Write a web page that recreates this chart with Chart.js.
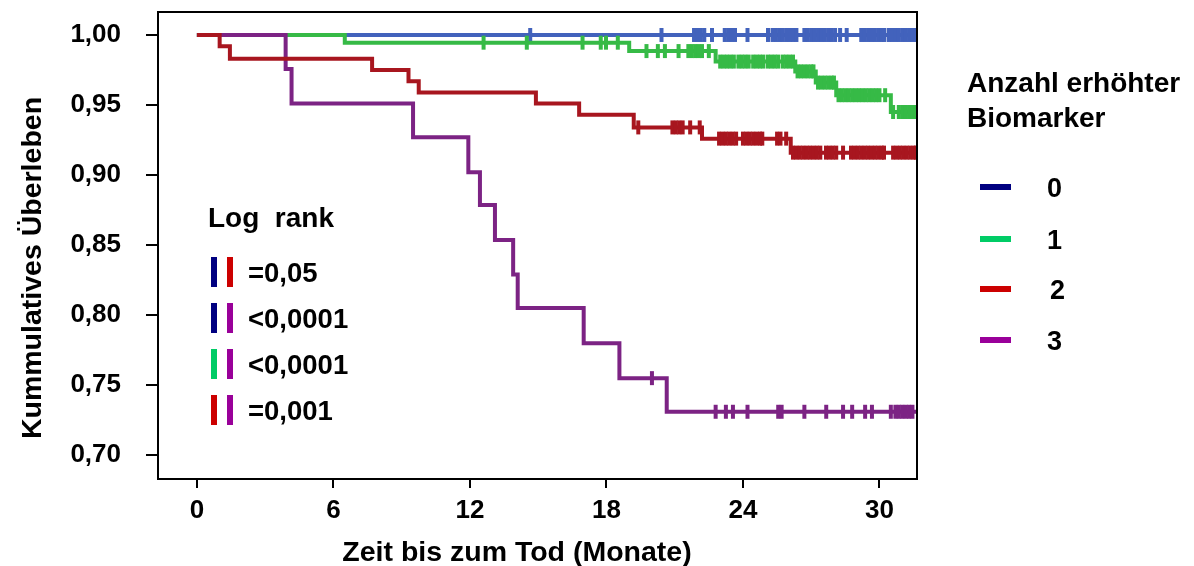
<!DOCTYPE html>
<html><head><meta charset="utf-8">
<script src="https://cdn.jsdelivr.net/npm/chart.js@4.4.0/dist/chart.umd.min.js"></script>
<style>html,body{margin:0;padding:0;background:#fff;}#wrap{width:1194px;height:566px;}</style>
</head><body><div id="wrap"><canvas id="c" width="1194" height="566"></canvas></div>
<script>
// ---- data ----
const groupLabels = ['0', '1', '2', '3'];
const xTicks = [0, 6, 12, 18, 24, 30];
const yTicks = [0.70, 0.75, 0.80, 0.85, 0.90, 0.95, 1.00];

// step curves (time in months, survival after the step)
const t0 = [0, 31.65];
const s0 = [1.0, 1.0];
const t1 = [0, 6.5, 19.0, 22.8, 26.3, 27.2, 28.1, 30.5, 31.65];
const s1 = [1.0, 0.9945, 0.9885, 0.981, 0.974, 0.966, 0.957, 0.945, 0.945];
const t2 = [0, 1.0, 1.45, 7.7, 9.3, 9.75, 14.9, 16.8, 19.2, 22.2, 26.1, 31.65];
const s2 = [1.0, 0.992, 0.983, 0.975, 0.967, 0.959, 0.951, 0.943, 0.934, 0.926, 0.916, 0.916];
const t3 = [0, 3.9, 4.16, 9.5, 11.93, 12.44, 13.1, 13.9, 14.1, 17.0, 18.57, 20.65, 31.65];
const s3 = [1.0, 0.9757, 0.951, 0.927, 0.902, 0.8786, 0.8536, 0.829, 0.805, 0.78, 0.755, 0.731, 0.731];

// censoring times
const c0 = [14.65, 20.42, 21.85, 22.0, 22.15, 22.3, 22.64, 23.2, 23.35, 23.5, 23.65, 24.2, 25.1, 25.3, 25.45, 25.6, 25.75, 25.9, 26.05, 26.2, 26.35, 26.7, 26.85, 27.0, 27.15, 27.3, 27.45, 27.6, 27.75, 27.9, 28.05, 28.27, 28.56, 29.2, 29.35, 29.5, 29.65, 29.8, 29.95, 30.1, 30.2, 30.4, 30.55, 30.7, 30.85, 31.0, 31.15, 31.3, 31.45, 31.6];
const c1 = [12.6, 14.5, 16.95, 17.75, 17.98, 18.5, 19.76, 20.26, 20.57, 21.17, 21.6, 21.75, 21.9, 22.05, 22.2, 22.5, 23.0, 23.15, 23.3, 23.45, 23.6, 23.8, 23.95, 24.1, 24.25, 24.45, 24.6, 24.75, 24.9, 25.1, 25.25, 25.4, 25.55, 25.75, 25.9, 26.05, 26.2, 26.4, 26.55, 26.7, 26.85, 27.0, 27.1, 27.3, 27.45, 27.6, 27.75, 27.9, 28.0, 28.2, 28.35, 28.5, 28.65, 28.8, 28.95, 29.1, 29.25, 29.4, 29.55, 29.7, 29.85, 30.0, 30.25, 30.6, 30.85, 31.0, 31.15, 31.3, 31.45, 31.6];
const c2 = [19.4, 20.9, 21.05, 21.2, 21.35, 21.68, 22.1, 22.95, 23.1, 23.25, 23.4, 23.55, 23.7, 24.0, 24.15, 24.3, 24.45, 24.6, 24.75, 24.85, 25.5, 25.65, 25.9, 26.2, 26.35, 26.5, 26.65, 26.8, 26.95, 27.1, 27.25, 27.4, 27.65, 27.8, 27.95, 28.1, 28.4, 28.75, 28.9, 29.05, 29.2, 29.35, 29.5, 29.65, 29.8, 29.95, 30.1, 30.2, 30.6, 30.75, 30.9, 31.05, 31.2, 31.35, 31.5, 31.6];
const c3 = [20.0, 22.8, 23.25, 23.56, 24.2, 25.55, 25.7, 26.7, 27.66, 28.4, 28.8, 29.37, 29.67, 30.5, 30.7, 30.85, 31.0, 31.15, 31.3, 31.45];

const logRankTitle = 'Log  rank';
const logRankTexts = ['=0,05', '<0,0001', '<0,0001', '=0,001'];
const logRankPairs = [[0, 2], [0, 3], [1, 3], [2, 3]];
const legendTitle = ['Anzahl erhöhter', 'Biomarker'];
const xTitle = 'Zeit bis zum Tod (Monate)';
const yTitle = 'Kummulatives Überleben';

// ---- styles ----
const lineColors = ['#4262BC', '#36BA46', '#A8161F', '#7C2384'];
const keyColors = ['#000080', '#00CC66', '#CC0000', '#990099'];
const FF = '"Liberation Sans", Arial, Helvetica, sans-serif';

function stepAt(t, s, x) {
  let v = s[0];
  for (let i = 0; i < t.length; i++) if (t[i] <= x) v = s[i];
  return v;
}
const curves = [[t0, s0, c0], [t1, s1, c1], [t2, s2, c2], [t3, s3, c3]];
const drawOrder = [3, 2, 0, 1]; // lower = on top: red on top, then purple, green, blue
const datasets = [];
curves.forEach(([t, s, c], g) => {
  datasets.push({
    label: groupLabels[g], data: t.map((x, i) => ({x: x, y: s[i]})),
    stepped: true, borderColor: lineColors[g], borderWidth: 4, pointRadius: 0,
    fill: false, order: drawOrder[g] * 2 + 1
  });
  datasets.push({
    label: groupLabels[g] + ' zensiert', data: c.map(x => ({x: x, y: stepAt(t, s, x)})),
    showLine: false, pointStyle: 'line', pointRotation: 90, pointRadius: 7, pointHoverRadius: 7,
    pointBorderWidth: 4, pointBorderColor: lineColors[g], pointBackgroundColor: lineColors[g],
    borderColor: lineColors[g], order: drawOrder[g] * 2
  });
});

const extras = {
  id: 'extras',
  afterDraw(chart) {
    const ctx = chart.ctx, a = chart.chartArea;
    ctx.save();
    // frame top/right
    ctx.strokeStyle = '#000'; ctx.lineWidth = 2;
    ctx.beginPath();
    ctx.moveTo(a.left, a.top); ctx.lineTo(a.right, a.top); ctx.lineTo(a.right, a.bottom);
    ctx.stroke();
    ctx.fillStyle = '#000';
    // axis titles
    ctx.font = 'bold 28.5px ' + FF;
    ctx.textAlign = 'center'; ctx.textBaseline = 'alphabetic';
    ctx.fillText(xTitle, 517, 561);
    ctx.save();
    ctx.translate(41, 268); ctx.rotate(-Math.PI / 2);
    ctx.fillText(yTitle, 0, 0);
    ctx.restore();
    // log rank box
    ctx.textAlign = 'left';
    ctx.font = 'bold 28px ' + FF;
    ctx.fillText(logRankTitle, 208, 227);
    ctx.font = 'bold 27.5px ' + FF;
    logRankTexts.forEach((txt, i) => {
      const cy = 272 + i * 46;
      const [g1, g2] = logRankPairs[i];
      ctx.fillStyle = keyColors[g1]; ctx.fillRect(211, cy - 15, 6, 30);
      ctx.fillStyle = keyColors[g2]; ctx.fillRect(227, cy - 15, 6, 30);
      ctx.fillStyle = '#000';
      ctx.fillText(txt, 248, cy + 10);
    });
    // right legend
    ctx.font = 'bold 28px ' + FF;
    ctx.fillText(legendTitle[0], 967, 92);
    ctx.fillText(legendTitle[1], 967, 127);
    ctx.font = 'bold 27px ' + FF;
    const ly = [187, 239, 289, 340];
    groupLabels.forEach((lab, i) => {
      ctx.fillStyle = keyColors[i]; ctx.fillRect(980, ly[i] - 3, 31, 6);
      ctx.fillStyle = '#000';
      ctx.fillText(lab, i === 2 ? 1050 : 1047, ly[i] + 10);
    });
    ctx.restore();
  }
};

new Chart(document.getElementById('c'), {
  type: 'line',
  data: {datasets: datasets},
  options: {
    responsive: false, animation: false, devicePixelRatio: 1,
    layout: {padding: {top: 12, right: 277, left: 0, bottom: 0}},
    plugins: {legend: {display: false}, tooltip: {enabled: false}},
    scales: {
      x: {
        type: 'linear', min: -1.71, max: 31.65,
        afterBuildTicks: s => { s.ticks = xTicks.map(v => ({value: v})); },
        afterFit: s => { s.height = 87; s.paddingLeft = 0; s.paddingRight = 0; },
        ticks: {font: {family: FF, size: 26, weight: 'bold', lineHeight: 1}, color: '#000', padding: 10, maxRotation: 0, autoSkip: false,
          callback: v => String(v)},
        grid: {display: true, drawOnChartArea: false, drawTicks: true, tickLength: 9, color: '#000', lineWidth: 2},
        border: {display: true, color: '#000', width: 2}
      },
      y: {
        type: 'linear', min: 0.683, max: 1.0164,
        afterBuildTicks: s => { s.ticks = yTicks.map(v => ({value: v})); },
        afterFit: s => { s.width = 158; s.paddingTop = 0; s.paddingBottom = 0; },
        ticks: {font: {family: FF, size: 26, weight: 'bold', lineHeight: 1}, color: '#000', padding: 25,
          callback: v => Number(v).toFixed(2).replace('.', ',')},
        grid: {display: true, drawOnChartArea: false, drawTicks: true, tickLength: 12, color: '#000', lineWidth: 2},
        border: {display: true, color: '#000', width: 2}
      }
    }
  },
  plugins: [extras]
});
</script>
</body></html>
